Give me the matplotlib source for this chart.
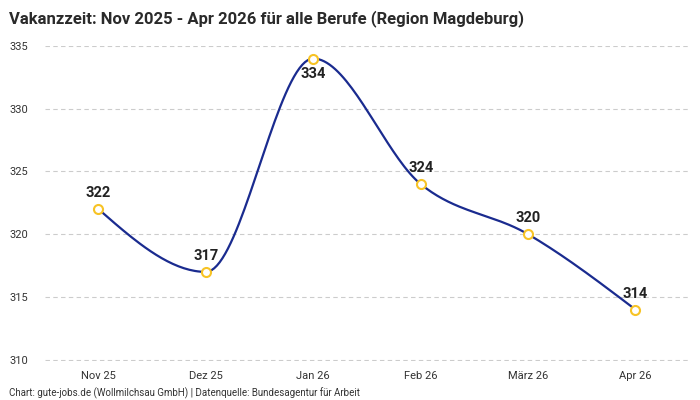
"""
Vakanzzeit Magdeburg — line chart with monotone smoothing.
"""
import numpy as np
import matplotlib.pyplot as plt

plt.rcParams["font.family"] = ["Roboto", "DejaVu Sans"]

months = ["Nov 25", "Dez 25", "Jan 26", "Feb 26", "März 26", "Apr 26"]
days = [322, 317, 334, 324, 320, 314]

LINE_C = "#1a2b8f"
MARK_C = "#f7c325"


def monotone_x(x, y, n=40):
    # d3 curveMonotoneX style hermite interpolation
    x = np.asarray(x, float)
    y = np.asarray(y, float)
    h = np.diff(x)
    s = np.diff(y) / h
    t = np.zeros(len(x))
    for i in range(1, len(x) - 1):
        p = (s[i - 1] * h[i] + s[i] * h[i - 1]) / (h[i - 1] + h[i])
        t[i] = (np.sign(s[i - 1]) + np.sign(s[i])) * min(abs(s[i - 1]), abs(s[i]), 0.5 * abs(p))
    t[0] = (3 * s[0] - t[1]) / 2
    t[-1] = (3 * s[-1] - t[-2]) / 2
    xs, ys = [], []
    for i in range(len(x) - 1):
        u = np.linspace(0, 1, n)
        h00 = 2 * u**3 - 3 * u**2 + 1
        h10 = u**3 - 2 * u**2 + u
        h01 = -2 * u**3 + 3 * u**2
        h11 = u**3 - u**2
        xs.append(x[i] + u * h[i])
        ys.append(h00 * y[i] + h10 * h[i] * t[i] + h01 * y[i + 1] + h11 * h[i] * t[i + 1])
    return np.concatenate(xs), np.concatenate(ys)


fig = plt.figure(figsize=(7, 4), dpi=100)
ax = fig.add_axes([0.064, 0.0975, 0.922, 0.7875])

x = np.arange(len(months))
sx, sy = monotone_x(x, days)
ax.plot(sx, sy, color=LINE_C, linewidth=1.6, zorder=2)
ax.plot(x, days, linestyle="none", marker="o", markersize=6.5,
        markerfacecolor="white", markeredgecolor=MARK_C, markeredgewidth=1.5, zorder=3)

for i, v in enumerate(days):
    below = v == max(days)
    ax.annotate(f"{v}", (i, v), xytext=(0, -11 if below else 11.5), textcoords="offset points",
                ha="center", va="center", fontsize=10.5, fontweight="bold", color="#222222")

ax.set_xlim(-0.5, 5.51)
ax.set_ylim(309.9, 335)
ax.set_yticks([310, 315, 320, 325, 330, 335])
ax.set_xticks(x)
ax.set_xticklabels(months)
ax.tick_params(axis="both", length=0, labelsize=8, colors="#333333")
ax.tick_params(axis="x", pad=7)
ax.tick_params(axis="y", pad=12)
ax.grid(axis="y", color="#cccccc", linestyle=(0, (4, 3)), linewidth=0.8)
ax.set_axisbelow(True)
for sp in ax.spines.values():
    sp.set_visible(False)

fig.text(0.013, 0.975, "Vakanzzeit: Nov 2025 - Apr 2026 für alle Berufe (Region Magdeburg)",
         fontsize=12, fontweight="bold", color="#2a2a2a", ha="left", va="top")
fig.text(0.013, 0.0175, "Chart: gute-jobs.de (Wollmilchsau GmbH) | Datenquelle: Bundesagentur für Arbeit",
         fontsize=7, color="#333333", ha="left", va="center")

fig.savefig("out.png", dpi=100)
